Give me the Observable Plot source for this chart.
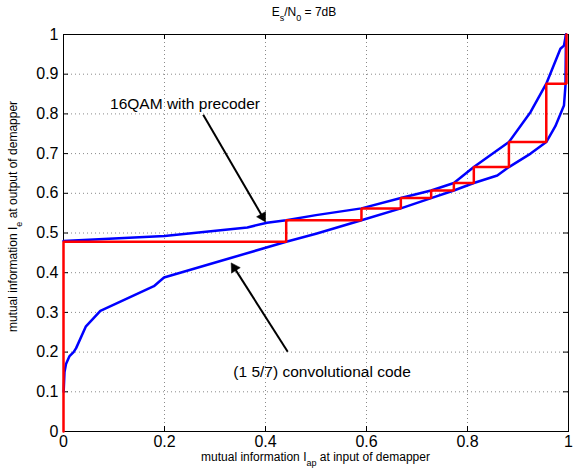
<!DOCTYPE html>
<html><head><meta charset="utf-8">
<script src="https://cdn.jsdelivr.net/npm/d3@7"></script>
<script src="https://cdn.jsdelivr.net/npm/@observablehq/plot@0.6"></script>
<style>body{margin:0;background:#fff} svg{display:block}</style>
</head><body><div id="chart"></div>
<script>
// ---- data ----
const xTicks = [0, 0.2, 0.4, 0.6, 0.8, 1];
const yTicks = [0, 0.1, 0.2, 0.3, 0.4, 0.5, 0.6, 0.7, 0.8, 0.9, 1];

// demapper transfer curve, 16QAM with precoder
const demapperX = [0, 0.2, 0.364, 0.403, 0.441, 0.5, 0.59, 0.668, 0.728, 0.773, 0.8125, 0.882, 0.925, 0.956, 0.984, 0.991, 0.995];
const demapperY = [0.48, 0.4926, 0.514, 0.526, 0.532, 0.545, 0.562, 0.588, 0.607, 0.626, 0.666, 0.729, 0.805, 0.876, 0.964, 0.972, 1.0];

// (1 5/7) convolutional code (inverted)
const codeX = [0.0003, 0.002, 0.005, 0.012, 0.02, 0.025, 0.044, 0.073, 0.179, 0.199, 0.331, 0.441, 0.5, 0.59, 0.668, 0.728, 0.773, 0.8125, 0.859, 0.882, 0.925, 0.956, 0.974, 0.991, 0.994, 0.995];
const codeY = [0.1, 0.15, 0.17, 0.19, 0.2, 0.21, 0.264, 0.304, 0.366, 0.388, 0.437, 0.478, 0.498, 0.532, 0.562, 0.588, 0.607, 0.626, 0.645, 0.666, 0.70, 0.729, 0.769, 0.821, 0.872, 1.0];

// decoding trajectory
const trajX = [0, 0, 0.441, 0.441, 0.59, 0.59, 0.668, 0.668, 0.728, 0.728, 0.773, 0.773, 0.8125, 0.8125, 0.882, 0.882, 0.956, 0.956, 0.996, 0.996];
const trajY = [0, 0.478, 0.478, 0.532, 0.532, 0.562, 0.562, 0.588, 0.588, 0.607, 0.607, 0.626, 0.626, 0.666, 0.666, 0.729, 0.729, 0.876, 0.876, 1.0];

// annotations
const noteText = ["16QAM with precoder", "(1 5/7) convolutional code"];
const noteX = [0.2406, 0.512];
const noteY = [0.825, 0.15];
const arrowX1 = [0.2766, 0.444];
const arrowY1 = [0.798, 0.2008];
const arrowX2 = [0.40, 0.332];
const arrowY2 = [0.528, 0.4247];

// ---- layout ----
const W = 574, H = 470, mL = 63, mR = 6, mT = 34, mB = 39;
const fw = W - mL - mR, fh = H - mT - mB;
const zip = (xs, ys) => xs.map((x, i) => ({x, y: ys[i]}));
const notes = noteText.map((t, i) => ({t, x: noteX[i], y: noteY[i]}));

// arrowheads: filled triangles whose tip sits at (x2, y2)
const headR = 3.8;
const tipDist = 2 * Math.sqrt((Math.PI * headR * headR) / (3 * Math.sqrt(3)));
const arrows = arrowX1.map((x1, i) => {
  const x2 = arrowX2[i], y2 = arrowY2[i], y1 = arrowY1[i];
  const px = (x2 - x1) * fw, py = -(y2 - y1) * fh;
  const len = Math.hypot(px, py), ux = px / len, uy = py / len;
  return {
    x1, y1, x2, y2,
    cx: x2 - ux * tipDist / fw,
    cy: y2 + uy * tipDist / fh,
    rot: Math.atan2(ux, -uy) * 180 / Math.PI
  };
});
const font = "'Liberation Sans', Arial, Helvetica, sans-serif";

const plot = Plot.plot({
  width: W, height: H,
  marginLeft: mL, marginRight: mR, marginTop: mT, marginBottom: mB,
  style: {fontFamily: font, background: "white", color: "black"},
  x: {domain: [0, 1]},
  y: {domain: [0, 1]},
  marks: [
    Plot.gridX(xTicks, {stroke: "#8a8a8a", strokeOpacity: 1, strokeDasharray: "1,3"}),
    Plot.gridY(yTicks, {stroke: "#8a8a8a", strokeOpacity: 1, strokeDasharray: "1,3"}),
    Plot.tickX(xTicks, {x: d => d, insetTop: fh - 5, stroke: "black"}),
    Plot.tickX(xTicks, {x: d => d, insetBottom: fh - 5, stroke: "black"}),
    Plot.tickY(yTicks, {y: d => d, insetRight: fw - 5, stroke: "black"}),
    Plot.tickY(yTicks, {y: d => d, insetLeft: fw - 5, stroke: "black"}),
    Plot.frame({stroke: "black"}),
    Plot.line(zip(codeX, codeY), {x: "x", y: "y", stroke: "#0000ff", strokeWidth: 2.5}),
    Plot.line(zip(demapperX, demapperY), {x: "x", y: "y", stroke: "#0000ff", strokeWidth: 2.5}),
    Plot.line(zip(trajX, trajY), {x: "x", y: "y", stroke: "#ff0000", strokeWidth: 2.5, strokeLinejoin: "miter"}),
    Plot.axisX(xTicks, {tickSize: 0, tickPadding: 4, fontSize: 16, label: null, tickFormat: d => String(d)}),
    Plot.axisY(yTicks, {tickSize: 0, tickPadding: 5, fontSize: 16, label: null, tickFormat: d => String(d)}),
    Plot.link(arrows, {x1: "x1", y1: "y1", x2: "cx", y2: "cy", stroke: "black", strokeWidth: 2}),
    Plot.dot(arrows, {x: "cx", y: "cy", symbol: "triangle", r: headR, fill: "black", stroke: "black", strokeWidth: 0.5, rotate: "rot"}),
    Plot.text(notes, {x: "x", y: "y", text: "t", fontSize: 15.5, fill: "black"})
  ]
});

// subscripted titles
const svg = d3.select(plot);
function subText(g, parts, size) {
  const shift = size * 0.4;
  let prevSub = false;
  parts.forEach(([t, s]) => {
    const ts = g.append("tspan").text(t);
    if (s) {
      ts.attr("dy", shift).attr("font-size", size * 0.75);
    } else {
      ts.attr("font-size", size);
      if (prevSub) ts.attr("dy", -shift);
    }
    prevSub = !!s;
  });
}
const t1 = svg.append("text").attr("x", 304).attr("y", 16).attr("text-anchor", "middle")
  .attr("font-family", font).attr("fill", "black");
subText(t1, [["E", 0], ["s", 1], ["/N", 0], ["0", 1], [" = 7dB", 0]], 12);

const t2 = svg.append("text").attr("x", mL + fw / 2).attr("y", 461).attr("text-anchor", "middle")
  .attr("font-family", font).attr("fill", "black");
subText(t2, [["mutual information I", 0], ["ap", 1], [" at input of demapper", 0]], 12);

const t3 = svg.append("text").attr("transform", `translate(17,${mT + fh / 2 - 16}) rotate(-90)`)
  .attr("text-anchor", "middle").attr("font-family", font).attr("fill", "black");
subText(t3, [["mutual information I", 0], ["e", 1], [" at output of demapper", 0]], 12);

document.getElementById("chart").appendChild(plot);
</script>
</body></html>
